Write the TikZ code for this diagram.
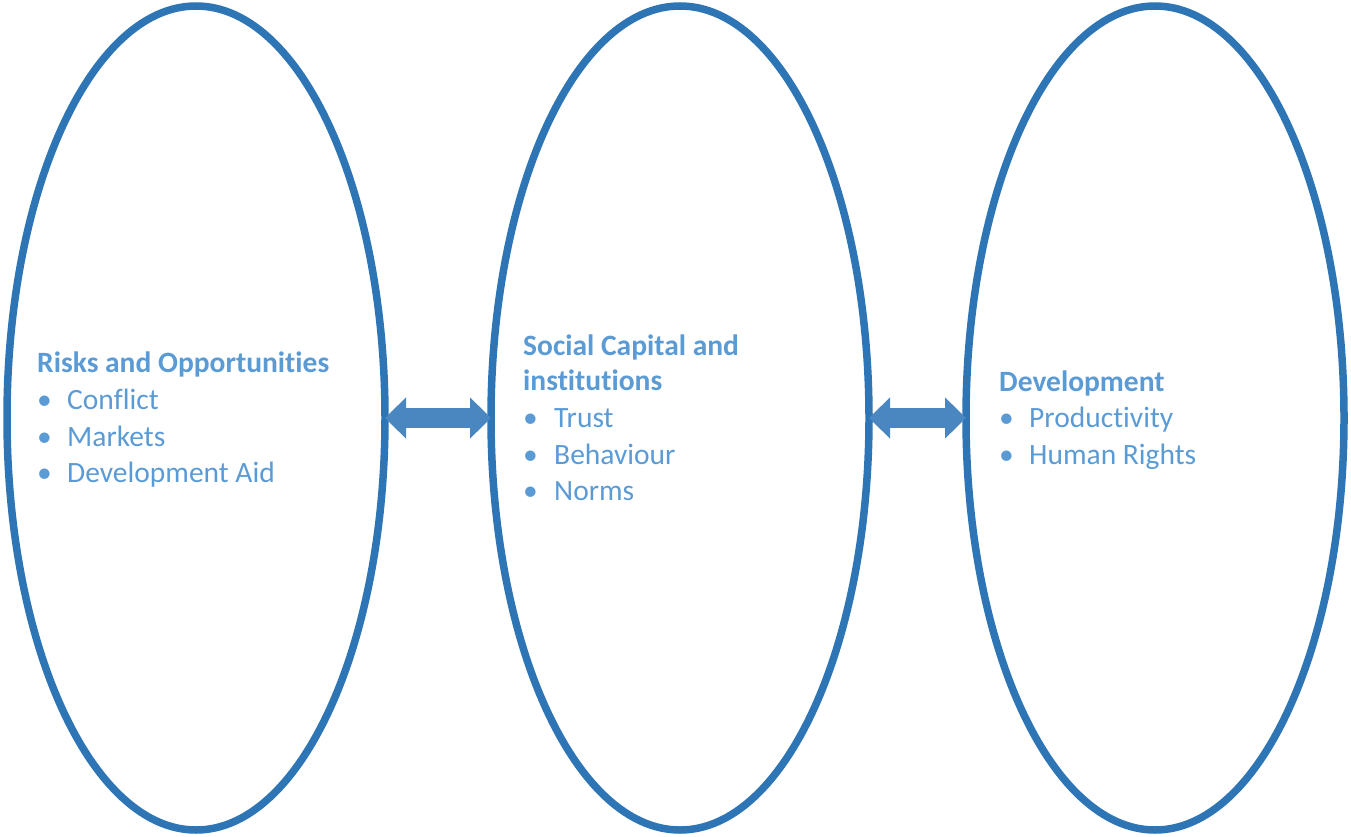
\documentclass[tikz,border=0pt]{standalone}
\usepackage{fontspec}
\setmainfont[Ligatures={NoCommon,NoRequired,NoContextual},Contextuals={NoAlternate}]{Carlito}
\usetikzlibrary{shapes.geometric,arrows.meta}
\definecolor{ringblue}{HTML}{2E75B6}
\definecolor{arrowblue}{HTML}{4A86C0}
\definecolor{textblue}{HTML}{5B9BD5}
\tikzset{
  ring/.style={ellipse, draw=ringblue, line width=7.5pt, inner sep=0pt, outer sep=0pt, minimum width=378pt, minimum height=824pt},
  link/.style={line width=20pt, draw=arrowblue, {Triangle[length=21pt,width=40pt]}-{Triangle[length=21pt,width=40pt]}},
  txt/.style={anchor=base west, inner sep=0pt, text=textblue, font=\fontsize{29.5}{36}\selectfont},
  head/.style={txt, font=\fontsize{29.5}{36}\selectfont\bfseries},
  bul/.style={anchor=base west, inner sep=0pt, text=textblue, font=\fontsize{29.5}{36}\selectfont}
}
\begin{document}
\begin{tikzpicture}[x=1pt,y=-1pt]
\useasboundingbox (0,0) rectangle (1351,837);
\node[ring] (e1) at (196,418) {};
\node[ring] (e2) at (680,418) {};
\node[ring] (e3) at (1155,418) {};
\draw[link] (e1.east) -- (e2.west);
\draw[link] (e2.east) -- (e3.west);
% left
\node[head] (h1) at (37,372) {Risks and Opportunit\kern0pt ies};
\node[bul] (b11) at (37,409) {•};
\node[txt] (t11) at (67,409) {Conf\kern0pt lict};
\node[bul] (b12) at (37,446) {•};
\node[txt] (t12) at (67,446) {Markets};
\node[bul] (b13) at (37,482) {•};
\node[txt] (t13) at (67,482) {Development Aid};
% middle
\node[head] (h2a) at (523,355) {Social Capital and};
\node[head] (h2b) at (523,390) {inst\kern0pt itut\kern0pt ions};
\node[bul] (b21) at (523,427) {•};
\node[txt] (t21) at (554,427) {Trust};
\node[bul] (b22) at (523,464) {•};
\node[txt] (t22) at (554,464) {Behaviour};
\node[bul] (b23) at (523,500) {•};
\node[txt] (t23) at (554,500) {Norms};
% right
\node[head] (h3) at (999,391) {Development};
\node[bul] (b31) at (999,427) {•};
\node[txt] (t31) at (1029,427) {Product\kern0pt ivit\kern0pt y};
\node[bul] (b32) at (999,464) {•};
\node[txt] (t32) at (1029,464) {Human Rights};
\end{tikzpicture}
\end{document}
